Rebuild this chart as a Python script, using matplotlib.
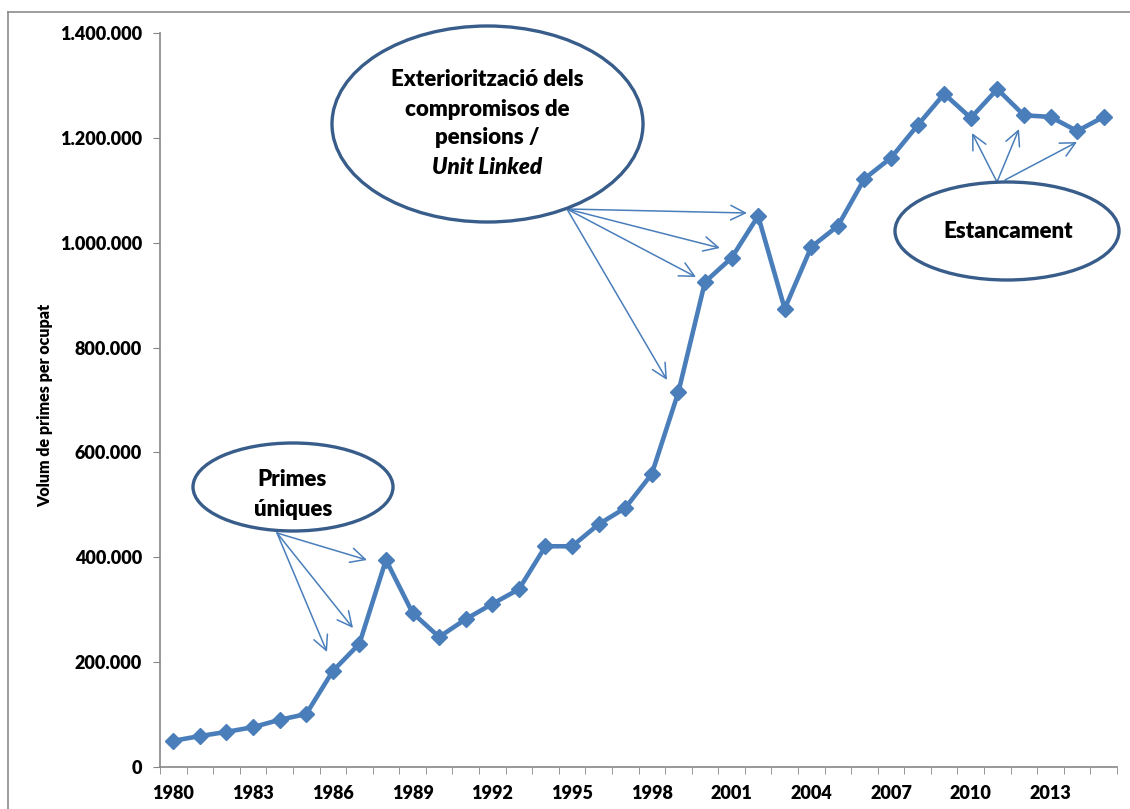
import numpy as np
import matplotlib
matplotlib.use("Agg")
import matplotlib.pyplot as plt
from matplotlib.patches import Ellipse
from matplotlib.ticker import FuncFormatter

# dades llegides del gràfic
years = list(range(1980, 2016))
values = [50000, 59000, 67000, 76000, 90000, 101000, 183000, 235000, 395000, 294000,
          248000, 282000, 311000, 339000, 421000, 421000, 463000, 494000, 559000, 715000,
          925000, 971000, 1051000, 874000, 992000, 1032000, 1122000, 1162000, 1224000, 1284000,
          1238000, 1293000, 1243000, 1240000, 1213000, 1240000]
y_ticks = [0, 200000, 400000, 600000, 800000, 1000000, 1200000, 1400000]
y_label = "Volum de primes per ocupat"

W, H = 1130, 809
LINE = "#4A7EBB"
EDGE = "#385D8A"
GRAY = "#868686"
FONT = "Lato"
WEIGHT = "heavy"

fig = plt.figure(figsize=(W / 100, H / 100), dpi=100)
ax = fig.add_axes([160 / W, 1 - 767 / H, (1117 - 160) / W, (767 - 33) / H])


def px(x, y):
    # pixel de la imatge -> fracció de figura
    return (x / W, 1 - y / H)


pos = np.arange(len(years))
ax.plot(pos, values, color=LINE, lw=3.3, marker="D", markersize=8,
        markerfacecolor=LINE, markeredgecolor=LINE, zorder=3)

ax.set_xlim(-0.5, len(years) - 0.5)
ax.set_ylim(0, 1400000)

ax.set_yticks(y_ticks)
ax.yaxis.set_major_formatter(FuncFormatter(lambda v, p: f"{int(v):,}".replace(",", ".")))
ax.set_xticks(pos[::3])
ax.set_xticklabels([str(y) for y in years[::3]])
ax.set_xticks(np.arange(-0.5, len(years), 1), minor=True)

ax.tick_params(axis="x", which="major", length=0, pad=13)
ax.tick_params(axis="x", which="minor", length=5, color=GRAY, direction="out")
ax.tick_params(axis="y", length=5, color=GRAY, direction="out", pad=8)
for lab in ax.get_xticklabels() + ax.get_yticklabels():
    lab.set_fontfamily(FONT)
    lab.set_fontweight(WEIGHT)
    lab.set_fontsize(13)

for s in ["top", "right"]:
    ax.spines[s].set_visible(False)
for s in ["left", "bottom"]:
    ax.spines[s].set_color(GRAY)
    ax.spines[s].set_linewidth(1.2)

fig.text(45 / W, 1 - 405 / H, y_label, rotation=90, ha="center", va="center",
         fontfamily=FONT, fontweight=WEIGHT, fontsize=11.5)

# marc exterior
fig.add_artist(plt.Line2D([8 / W, 1], [1 - 12 / H, 1 - 12 / H], color="#8C8C8C", lw=1.2))
fig.add_artist(plt.Line2D([8 / W, 8 / W], [0, 1 - 12 / H], color="#8C8C8C", lw=1.2))

# fletxes
arrows = [
    ((277, 533), [(367, 560), (353, 628), (327, 652)]),
    ((567, 209), [(747, 213), (720, 248), (696, 277), (667, 380)]),
    ((997, 182), [(972, 133), (1019, 129)]),
    ((1005, 180), [(1077, 142)]),
]
for src, targets in arrows:
    for t in targets:
        fig.add_artist(plt.Annotation("", xy=px(*t), xytext=px(*src),
                                      xycoords="figure fraction", textcoords="figure fraction",
                                      arrowprops=dict(arrowstyle="->,head_length=0.7,head_width=0.35",
                                                      color=LINE, lw=1.1, mutation_scale=15,
                                                      shrinkA=0, shrinkB=0)))

# el·lipses
ellipses = [((487.5, 124), 311, 196), ((293, 487), 200, 88), ((1007, 231), 224, 98)]
for (cx, cy), w, h in ellipses:
    fig.add_artist(Ellipse(px(cx, cy), w / W, h / H, transform=fig.transFigure,
                           facecolor="white", edgecolor=EDGE, lw=2.4, zorder=4))

kw = dict(ha="center", va="center", fontfamily=FONT, fontweight=WEIGHT, fontsize=16, zorder=5)
fig.text(*px(487, 80), "Exterioritzaci\u00f3 dels", **kw)
fig.text(*px(487, 110), "compromisos de", **kw)
fig.text(*px(487, 138), "pensions /", **kw)
fig.text(*px(487, 167), "Unit Linked", style="italic", **kw)
fig.text(*px(292, 479), "Primes", **kw)
fig.text(*px(293, 509), "\u00faniques", **kw)
fig.text(*px(1008, 232), "Estancament", **kw)

fig.savefig("out.png", dpi=100)
